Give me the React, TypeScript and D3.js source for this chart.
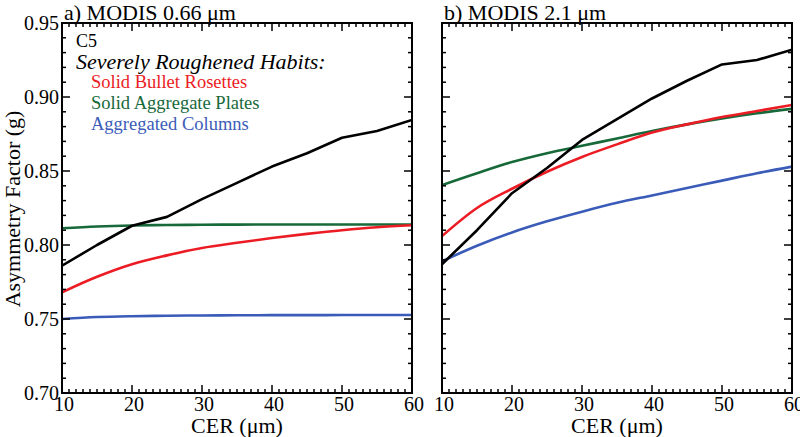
import React from "react";
import * as d3 from "d3";

const cer = [10, 15, 20, 25, 30, 35, 40, 45, 50, 55, 60];

// Panel a) MODIS 0.66 µm
const aC5 = [0.786, 0.8, 0.813, 0.819, 0.831, 0.842, 0.853, 0.862, 0.8725, 0.877, 0.8845];
const aRosettes = [0.768, 0.7785, 0.787, 0.793, 0.798, 0.8015, 0.8047, 0.8075, 0.81, 0.812, 0.8133];
const aPlates = [0.8113, 0.8125, 0.8132, 0.8135, 0.8137, 0.8138, 0.8139, 0.8139, 0.8139, 0.8139, 0.8139];
const aColumns = [0.75, 0.7513, 0.7519, 0.7522, 0.7524, 0.7525, 0.7526, 0.7526, 0.7527, 0.7527, 0.7527];

// Panel b) MODIS 2.1 µm
const bC5 = [0.787, 0.81, 0.835, 0.852, 0.871, 0.885, 0.899, 0.911, 0.922, 0.925, 0.932];
const bRosettes = [0.806, 0.825, 0.838, 0.8495, 0.8595, 0.868, 0.876, 0.8815, 0.8865, 0.8905, 0.8946];
const bPlates = [0.8405, 0.8485, 0.856, 0.862, 0.867, 0.872, 0.877, 0.8815, 0.8855, 0.889, 0.892];
const bColumns = [0.789, 0.7995, 0.8085, 0.816, 0.8225, 0.8285, 0.8335, 0.8385, 0.8435, 0.8485, 0.853];

const yTicks = [0.7, 0.75, 0.8, 0.85, 0.9, 0.95];
const xTicks = [10, 20, 30, 40, 50, 60];
const legendLabels = ["Solid Bullet Rosettes", "Solid Aggregate Plates", "Aggregated Columns"];

const RED = "#ec1c24";
const GREEN = "#17693a";
const BLUE = "#3a5cb8";

const TOP = 23;
const BOTTOM = 393;

const CSS = `
svg.chart text { font-family: "Liberation Serif", "Times New Roman", serif !important; }
svg.chart text.it { font-style: italic; }
`;

type PanelProps = {
  x0: number;
  x1: number;
  title: string;
  series: { values: number[]; color: string; curve: any }[];
  showYLabels: boolean;
};

function Panel({ x0, x1, title, series, showYLabels }: PanelProps) {
  const x = d3.scaleLinear().domain([10, 60]).range([x0, x1]);
  const y = d3.scaleLinear().domain([0.7, 0.95]).range([BOTTOM, TOP]);
  const xMinor = d3.range(10, 61, 1);
  const yMinor = d3.range(0, 26).map((i) => 0.7 + i * 0.01);
  const major = 8;
  const minor = 4;
  return (
    <g>
      <defs>
        <clipPath id={`clip-${x0}`}>
          <rect x={x0} y={TOP} width={x1 - x0} height={BOTTOM - TOP} />
        </clipPath>
      </defs>
      <g clipPath={`url(#clip-${x0})`}>
        {series.map((s, i) => {
          const line = d3
            .line<number>()
            .x((_, j) => x(cer[j]))
            .y((v) => y(v))
            .curve(s.curve);
          return (
            <path key={i} d={line(s.values) || ""} fill="none" stroke={s.color} strokeWidth={2.6} strokeLinejoin="round" />
          );
        })}
      </g>
      {xMinor.map((v) => {
        const isMajor = v % 10 === 0;
        const len = isMajor ? major : minor;
        return (
          <g key={`xt${v}`} stroke="#000" strokeWidth={1.5}>
            <line x1={x(v)} x2={x(v)} y1={BOTTOM} y2={BOTTOM - len} />
            <line x1={x(v)} x2={x(v)} y1={TOP} y2={TOP + len} />
          </g>
        );
      })}
      {yMinor.map((v, i) => {
        const isMajor = i % 5 === 0;
        const len = isMajor ? major : minor;
        return (
          <g key={`yt${i}`} stroke="#000" strokeWidth={1.5}>
            <line x1={x0} x2={x0 + len} y1={y(v)} y2={y(v)} />
            <line x1={x1} x2={x1 - len} y1={y(v)} y2={y(v)} />
          </g>
        );
      })}
      <rect x={x0} y={TOP} width={x1 - x0} height={BOTTOM - TOP} fill="none" stroke="#000" strokeWidth={2} />
      {xTicks.map((v) => (
        <text key={`xl${v}`} x={x(v) + 2} y={411} textAnchor="middle" fontSize={20}>
          {v}
        </text>
      ))}
      {showYLabels &&
        yTicks.map((v) => (
          <text key={`yl${v}`} x={x0 - 3} y={y(v) + 7} textAnchor="end" fontSize={20}>
            {v.toFixed(2)}
          </text>
        ))}
      <text x={(x0 + x1) / 2} y={433} textAnchor="middle" fontSize={22}>
        CER (μm)
      </text>
      <text x={x0 + 2} y={20} fontSize={22}>
        {title}
      </text>
    </g>
  );
}

export default function App() {
  return (
    <svg
      className="chart"
      width={800}
      height={437}
      style={{ position: "absolute", left: 0, top: 0, background: "#fff" }}
    >
      <style>{CSS}</style>
      <rect width={800} height={437} fill="#fff" />
      <Panel
        x0={62}
        x1={412}
        title="a) MODIS 0.66 μm"
        showYLabels={true}
        series={[
          { values: aColumns, color: BLUE, curve: d3.curveMonotoneX },
          { values: aPlates, color: GREEN, curve: d3.curveMonotoneX },
          { values: aRosettes, color: RED, curve: d3.curveMonotoneX },
          { values: aC5, color: "#000", curve: d3.curveLinear },
        ]}
      />
      <Panel
        x0={442}
        x1={792}
        title="b) MODIS 2.1 μm"
        showYLabels={false}
        series={[
          { values: bColumns, color: BLUE, curve: d3.curveMonotoneX },
          { values: bPlates, color: GREEN, curve: d3.curveMonotoneX },
          { values: bRosettes, color: RED, curve: d3.curveMonotoneX },
          { values: bC5, color: "#000", curve: d3.curveLinear },
        ]}
      />
      <text transform="translate(20,209) rotate(-90)" textAnchor="middle" fontSize={22}>
        Asymmetry Factor (g)
      </text>
      <text x={76} y={47} fontSize={18}>
        C5
      </text>
      <text className="it" x={76} y={69} fontSize={22}>
        Severely Roughened Habits:
      </text>
      {legendLabels.map((l, i) => (
        <text key={l} x={91} y={88 + i * 21} fontSize={18.5} fill={[RED, GREEN, BLUE][i]}>
          {l}
        </text>
      ))}
    </svg>
  );
}
